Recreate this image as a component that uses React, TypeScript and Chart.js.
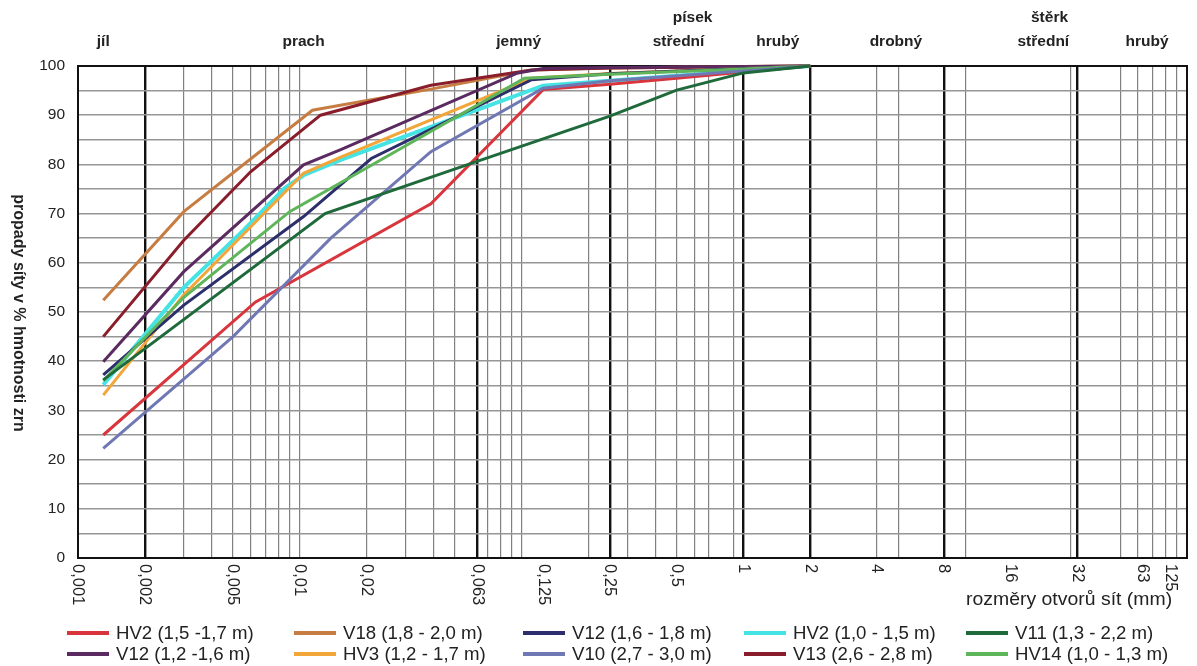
import React, { useEffect, useRef } from 'react';
import { Chart, registerables } from 'chart.js';
Chart.register(...registerables);

// ---------- data ----------
const seriesNames = [
  'HV2 (1,5 -1,7 m)', 'V18 (1,8 - 2,0 m)', 'V12 (1,6 - 1,8 m)', 'HV2 (1,0 - 1,5 m)', 'V11 (1,3 - 2,2 m)',
  'V12 (1,2 -1,6 m)', 'HV3 (1,2 - 1,7 m)', 'V10 (2,7 - 3,0 m)', 'V13 (2,6 - 2,8 m)', 'HV14 (1,0 - 1,3 m)',
];
const seriesColors = [
  '#d8363c', '#c77c42', '#2c2f6c', '#45e3e3', '#1f6a3b',
  '#5a2a60', '#f2a63a', '#7078b4', '#8a1d2b', '#5fb65a',
];

const hv2aX = [0.0013, 0.0063, 0.039, 0.125, 0.25, 0.5, 1, 2];
const hv2aY = [25, 52, 72, 95.2, 96.3, 97.5, 98.8, 100];
const v18X = [0.0013, 0.003, 0.0114, 0.039, 0.111, 0.25, 1, 2];
const v18Y = [52.4, 70.4, 91, 95.3, 99.2, 99.6, 99.9, 100];
const v12bX = [0.0013, 0.003, 0.0104, 0.021, 0.111, 0.25, 1, 2];
const v12bY = [37.2, 51.4, 69.4, 81.2, 97.2, 98.4, 99.5, 100];
const hv2bX = [0.0013, 0.003, 0.0056, 0.0085, 0.0104, 0.0153, 0.125, 0.25, 0.5, 1, 2];
const hv2bY = [35.2, 55, 66.7, 75.1, 77.8, 80.9, 96, 97, 98, 99, 100];
const v11X = [0.0013, 0.013, 0.063, 0.125, 0.25, 0.5, 1, 2];
const v11Y = [36.2, 70, 80.6, 85.2, 89.8, 95.1, 98.6, 100];
const v12aX = [0.0013, 0.003, 0.0104, 0.0153, 0.095, 0.125, 0.25, 2];
const v12aY = [39.9, 58.2, 79.9, 83, 98.5, 99.5, 99.7, 100];
const hv3X = [0.0013, 0.003, 0.0104, 0.0153, 0.111, 0.25, 1, 2];
const hv3Y = [33.1, 53.5, 78.2, 81.5, 97.5, 98.5, 99.5, 100];
const v10X = [0.0013, 0.005, 0.0138, 0.039, 0.125, 0.25, 1, 2];
const v10Y = [22.3, 45, 65, 82.6, 95.5, 97, 99, 100];
const v13X = [0.0013, 0.003, 0.006, 0.0124, 0.039, 0.111, 0.25, 2];
const v13Y = [45, 64.6, 78.5, 90, 96.1, 99.2, 99.6, 100];
const hv14X = [0.0013, 0.003, 0.009, 0.103, 0.25, 1, 2];
const hv14Y = [36, 53, 70.4, 97.5, 98.3, 99.4, 100];

const seriesX = [hv2aX, v18X, v12bX, hv2bX, v11X, v12aX, hv3X, v10X, v13X, hv14X];
const seriesY = [hv2aY, v18Y, v12bY, hv2bY, v11Y, v12aY, hv3Y, v10Y, v13Y, hv14Y];

// x axis ticks (mm)
const xTickValues = [0.001, 0.002, 0.005, 0.01, 0.02, 0.063, 0.125, 0.25, 0.5, 1, 2, 4, 8, 16, 32, 63, 125];
const xTickLabels = ['0,001', '0,002', '0,005', '0,01', '0,02', '0,063', '0,125', '0,25', '0,5', '1', '2', '4', '8', '16', '32', '63', '125'];
const xMajorGrid = [0.002, 0.063, 0.25, 1, 2, 8, 32];
const xMinorGrid = [0.003, 0.004, 0.005, 0.006, 0.007, 0.008, 0.009, 0.01, 0.02, 0.03, 0.04, 0.05, 0.07, 0.08, 0.09, 0.1,
  0.2, 0.3, 0.4, 0.5, 0.6, 0.7, 0.9, 4, 5, 10, 30, 50, 60, 70, 80, 90];
const yTickValues = [0, 10, 20, 30, 40, 50, 60, 70, 80, 90, 100];

// fraction names above the plot
const fractionNames = ['jíl', 'prach', 'jemný', 'střední', 'hrubý', 'drobný', 'střední', 'hrubý'];
const fractionAt = [0.0013, 0.0104, 0.097, 0.51, 1.43, 4.87, 22.5, 66];
const groupNames = ['písek', 'štěrk'];
const groupAt = [0.59, 24];

const yTitle = 'propady síty v % hmotnosti zrn';
const xTitle = 'rozměry otvorů sít (mm)';

const SANS = '"Liberation Sans", Arial, sans-serif';

const decorPlugin = {
  id: 'decor',
  beforeDatasetsDraw(chart: any) {
    const { ctx, chartArea: a } = chart;
    ctx.save();
    ctx.strokeStyle = '#111';
    ctx.lineWidth = 2;
    ctx.strokeRect(a.left, a.top, a.right - a.left, a.bottom - a.top);
    ctx.restore();
  },
  afterDraw(chart: any) {
    const { ctx, chartArea: a } = chart;
    const xs = chart.scales.x;
    const ys = chart.scales.y;
    ctx.save();
    // y tick labels
    ctx.fillStyle = '#222';
    ctx.font = `15.5px ${SANS}`;
    ctx.textAlign = 'right';
    ctx.textBaseline = 'middle';
    yTickValues.forEach((v) => ctx.fillText(String(v), a.left - 13, ys.getPixelForValue(v)));
    // x tick labels rotated clockwise
    ctx.font = `16.5px ${SANS}`;
    ctx.textAlign = 'left';
    xTickValues.forEach((v, i) => {
      let px = xs.getPixelForValue(v);
      if (px > a.right - 16) px = a.right - 16;
      ctx.save();
      ctx.translate(px, a.bottom + 6);
      ctx.rotate(Math.PI / 2);
      ctx.fillText(xTickLabels[i], 0, 0);
      ctx.restore();
    });
    // y title
    ctx.save();
    ctx.font = `bold 16px ${SANS}`;
    ctx.textAlign = 'center';
    ctx.translate(18, (a.top + a.bottom) / 2 + 1);
    ctx.rotate(Math.PI / 2);
    ctx.fillText(yTitle, 0, 0);
    ctx.restore();
    // x title
    ctx.save();
    ctx.font = `18.5px ${SANS}`;
    ctx.textAlign = 'left';
    ctx.translate(966, 600);
    ctx.scale(1.05, 1);
    ctx.fillText(xTitle, 0, 0);
    ctx.restore();
    // fraction names
    ctx.font = `bold 15.5px ${SANS}`;
    ctx.textAlign = 'center';
    fractionNames.forEach((t, i) => ctx.fillText(t, xs.getPixelForValue(fractionAt[i]), 42));
    groupNames.forEach((t, i) => ctx.fillText(t, xs.getPixelForValue(groupAt[i]), 18));
    // legend
    const colX = [67, 294, 523, 744, 966];
    const rowY = [633, 654];
    ctx.font = `19px ${SANS}`;
    ctx.textAlign = 'left';
    seriesNames.forEach((name, i) => {
      const r = Math.floor(i / 5);
      const c = i % 5;
      const x0 = colX[c];
      const y0 = rowY[r];
      ctx.strokeStyle = seriesColors[i];
      ctx.lineWidth = 4;
      ctx.beginPath();
      ctx.moveTo(x0, y0);
      ctx.lineTo(x0 + 42, y0);
      ctx.stroke();
      ctx.save();
      ctx.fillStyle = '#222';
      ctx.translate(x0 + 49, y0 + 1);
      ctx.scale(0.98, 1);
      ctx.fillText(name, 0, 0);
      ctx.restore();
    });
    ctx.restore();
  },
};

export default function App() {
  const ref = useRef<HTMLCanvasElement | null>(null);
  useEffect(() => {
    if (!ref.current) return;
    const majorSet = new Set(xMajorGrid);
    const datasets = seriesNames.map((name, i) => ({
      label: name,
      data: seriesX[i].map((x, j) => ({ x, y: seriesY[i][j] })),
      borderColor: seriesColors[i],
      backgroundColor: seriesColors[i],
      borderWidth: i === 3 ? 4 : 3,
      pointRadius: 0,
      tension: 0,
      clip: false as any,
    }));
    // draw cyan on top
    const order = [4, 7, 0, 9, 2, 6, 5, 8, 1, 3];
    const chart = new Chart(ref.current, {
      type: 'line',
      data: { datasets: order.map((k) => datasets[k]) },
      options: {
        responsive: false,
        animation: false,
        layout: { padding: { left: 78, right: 10, top: 66, bottom: 108 } },
        plugins: { legend: { display: false }, tooltip: { enabled: false } },
        scales: {
          x: {
            type: 'logarithmic',
            min: 0.001,
            max: 100,
            afterBuildTicks: (scale: any) => {
              scale.ticks = [...xMajorGrid, ...xMinorGrid].sort((a, b) => a - b).map((v) => ({ value: v }));
            },
            ticks: { display: false },
            border: { display: false },
            grid: {
              drawTicks: false,
              color: (c: any) => (c.tick && majorSet.has(c.tick.value) ? '#111' : '#808080'),
              lineWidth: (c: any) => (c.tick && majorSet.has(c.tick.value) ? 2.4 : 1.2),
            },
          },
          y: {
            min: 0,
            max: 100,
            ticks: { display: false, stepSize: 5 },
            border: { display: false },
            grid: { drawTicks: false, color: '#969696', lineWidth: 1.5 },
          },
        },
      },
      plugins: [decorPlugin],
    });
    return () => chart.destroy();
  }, []);
  return (
    <div style={{ position: 'absolute', left: 0, top: 0, width: 1197, height: 666, background: '#fff' }}>
      <canvas ref={ref} width={1197} height={666} style={{ display: 'block' }} />
    </div>
  );
}
